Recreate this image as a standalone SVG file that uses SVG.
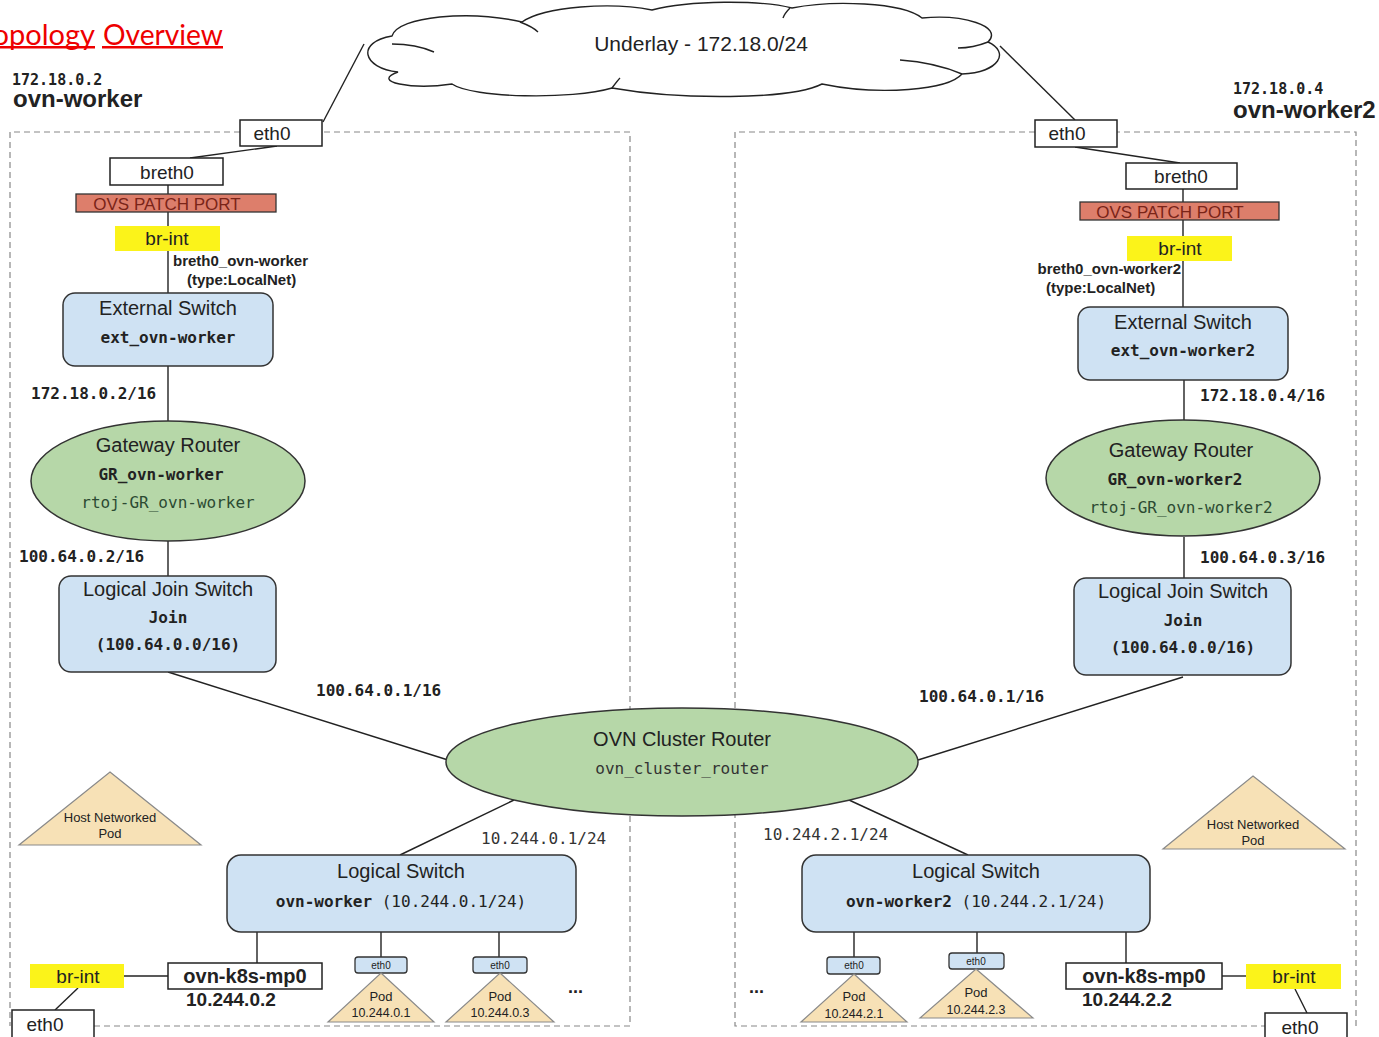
<svg xmlns="http://www.w3.org/2000/svg" width="1379" height="1037" viewBox="0 0 1379 1037">
  <style>
    .sans { font-family: "Liberation Sans", Arial, sans-serif; fill: #222; }
    .mono { font-family: "DejaVu Sans Mono", "Liberation Mono", monospace; fill: #222; font-size: 16px; }
    .b { font-weight: bold; }
    .mid { text-anchor: middle; }
    .box { fill: #fff; stroke: #222; stroke-width: 1.5; }
    .sw { fill: #cfe2f3; stroke: #333; stroke-width: 1.5; }
    .rt { fill: #b6d7a8; stroke: #333; stroke-width: 1.5; }
    .ovs { fill: #dd7e6b; stroke: #333; stroke-width: 1.3; }
    .brint { fill: #fbf31a; }
    .pod { fill: #f7e1b6; stroke: #8a8a8a; stroke-width: 1.2; }
    .port { fill: #cfe2f3; stroke: #333; stroke-width: 1.3; }
    .link { stroke: #222; stroke-width: 1.4; fill: none; }
    .zone { fill: none; stroke: #888; stroke-width: 1.2; stroke-dasharray: 6 4; }
  </style>

  <!-- page heading -->
  <g id="heading">
    <text x="95" y="45" text-anchor="end" font-family="Lato, 'Open Sans', sans-serif" font-size="29" fill="#ee0000">Topology</text>
    <text x="103" y="45" font-family="Lato, 'Open Sans', sans-serif" font-size="29" fill="#ee0000" textLength="120" lengthAdjust="spacingAndGlyphs">Overview</text>
    <rect x="0" y="46" width="95" height="2.5" fill="#ee0000"/>
    <rect x="102" y="46" width="121" height="2.5" fill="#ee0000"/>
  </g>

  <!-- node zones -->
  <g id="zones">
    <path class="zone" d="M240,132 H10 V1026 M94,1026 H630 V132 H322"/>
    <path class="zone" d="M1035,132 H735 V1026 H1265 M1356,1026 V132 H1117"/>
  </g>

  <g id="hosts">
    <text class="mono b" x="12" y="85" style="font-size:15px">172.18.0.2</text>
    <text class="sans b" x="13" y="107" font-size="24">ovn-worker</text>
    <text class="mono b" x="1233" y="94" style="font-size:15px">172.18.0.4</text>
    <text class="sans b" x="1233" y="118" font-size="24">ovn-worker2</text>
  </g>

  <!-- connectors -->
  <g id="connectors">
    <line class="link" x1="364" y1="44" x2="323" y2="122"/>
    <line class="link" x1="1000" y1="46" x2="1075" y2="120"/>
    <line class="link" x1="277" y1="146" x2="190" y2="158"/>
    <line class="link" x1="1075" y1="147" x2="1180" y2="163"/>
    <line class="link" x1="168" y1="185" x2="168" y2="293"/>
    <line class="link" x1="1183" y1="189" x2="1183" y2="307"/>
    <line class="link" x1="168" y1="366" x2="168" y2="421"/>
    <line class="link" x1="1184" y1="380" x2="1184" y2="421"/>
    <line class="link" x1="168" y1="541" x2="168" y2="576"/>
    <line class="link" x1="1184" y1="537" x2="1184" y2="578"/>
    <line class="link" x1="168" y1="672" x2="448" y2="760"/>
    <line class="link" x1="918" y1="760" x2="1183" y2="677"/>
    <line class="link" x1="514" y1="800" x2="400" y2="855"/>
    <line class="link" x1="849" y1="800" x2="968" y2="855"/>
    <line class="link" x1="257" y1="932" x2="257" y2="963"/>
    <line class="link" x1="381" y1="932" x2="381" y2="957"/>
    <line class="link" x1="499" y1="932" x2="499" y2="957"/>
    <line class="link" x1="854" y1="932" x2="854" y2="957"/>
    <line class="link" x1="977" y1="932" x2="977" y2="953"/>
    <line class="link" x1="1126" y1="932" x2="1126" y2="963"/>
    <line class="link" x1="124" y1="976" x2="168" y2="976"/>
    <line class="link" x1="78" y1="988" x2="55" y2="1010"/>
    <line class="link" x1="1222" y1="976" x2="1246" y2="976"/>
    <line class="link" x1="1295" y1="989" x2="1307" y2="1013"/>
  </g>

  <!-- underlay cloud -->
  <g id="underlay">
    <path fill="#fff" stroke="#222" stroke-width="1.4" d="M398,72 C362,68 356,42 392,36 C398,16 470,10 522,22 C545,6 612,2 652,10 C690,0 760,0 792,8 C832,0 902,2 922,18 C962,14 1004,26 988,42 C1010,52 1000,72 962,74 C948,90 880,96 822,84 C790,100 680,100 612,88 C572,100 472,98 452,84 C412,90 370,82 398,72 Z"/>
    <path class="link" d="M392,44 C410,44 425,48 434,52 M520,22 C528,25 534,28 538,32 M790,8 C786,12 784,15 783,18 M988,42 C978,46 968,48 958,48 M962,74 C948,68 928,62 900,60 M612,88 C615,84 618,80 620,78"/>
    <text class="sans mid" x="701" y="51" font-size="21">Underlay - 172.18.0/24</text>
  </g>

  <!-- ovn-worker -->
  <g id="eth0-worker">
    <rect class="box" x="240" y="120" width="82" height="26"/>
    <text class="sans mid" x="272" y="140" font-size="19">eth0</text>
  </g>
  <g id="breth0-worker">
    <rect class="box" x="110" y="158" width="113" height="27"/>
    <text class="sans mid" x="167" y="179" font-size="19">breth0</text>
  </g>
  <g id="patch-worker">
    <rect class="ovs" x="76" y="194" width="200" height="18"/>
    <text class="sans mid" x="167" y="210" font-size="17" style="fill:#7a2418">OVS PATCH PORT</text>
  </g>
  <g id="brint-worker">
    <rect class="brint" x="115" y="226" width="105" height="25"/>
    <text class="sans mid" x="167" y="245" font-size="19">br-int</text>
    <text class="sans b" x="173" y="266" font-size="15">breth0_ovn-worker</text>
    <text class="sans b" x="187" y="285" font-size="15">(type:LocalNet)</text>
  </g>
  <g id="ext-worker">
    <rect class="sw" x="63" y="293" width="210" height="73" rx="12"/>
    <text class="sans mid" x="168" y="315" font-size="20">External Switch</text>
    <text class="mono b mid" x="168" y="343">ext_ovn-worker</text>
    <text class="mono b" x="31" y="399">172.18.0.2/16</text>
  </g>
  <g id="gr-worker">
    <ellipse class="rt" cx="168" cy="481" rx="137" ry="60"/>
    <text class="sans mid" x="168" y="452" font-size="20">Gateway Router</text>
    <text class="mono b mid" x="161" y="480">GR_ovn-worker</text>
    <text class="mono mid" x="168" y="508" style="fill:#2c4a32">rtoj-GR_ovn-worker</text>
    <text class="mono b" x="19" y="562">100.64.0.2/16</text>
  </g>
  <g id="join-worker">
    <rect class="sw" x="59" y="576" width="217" height="96" rx="12"/>
    <text class="sans mid" x="168" y="596" font-size="20">Logical Join Switch</text>
    <text class="mono b mid" x="168" y="623">Join</text>
    <text class="mono b mid" x="168" y="650">(100.64.0.0/16)</text>
    <text class="mono b" x="316" y="696">100.64.0.1/16</text>
  </g>

  <!-- cluster router -->
  <g id="cluster-router">
    <ellipse class="rt" cx="682" cy="762" rx="236" ry="54"/>
    <text class="sans mid" x="682" y="746" font-size="20">OVN Cluster Router</text>
    <text class="mono mid" x="682" y="774" style="fill:#333">ovn_cluster_router</text>
  </g>

  <!-- ovn-worker2 -->
  <g id="eth0-worker2">
    <rect class="box" x="1035" y="120" width="82" height="27"/>
    <text class="sans mid" x="1067" y="140" font-size="19">eth0</text>
  </g>
  <g id="breth0-worker2">
    <rect class="box" x="1126" y="163" width="111" height="26"/>
    <text class="sans mid" x="1181" y="183" font-size="19">breth0</text>
  </g>
  <g id="patch-worker2">
    <rect class="ovs" x="1080" y="202" width="199" height="18"/>
    <text class="sans mid" x="1170" y="218" font-size="17" style="fill:#7a2418">OVS PATCH PORT</text>
  </g>
  <g id="brint-worker2">
    <rect class="brint" x="1127" y="236" width="105" height="25"/>
    <text class="sans mid" x="1180" y="255" font-size="19">br-int</text>
    <text class="sans b" x="1181" y="274" font-size="15" text-anchor="end">breth0_ovn-worker2</text>
    <text class="sans b" x="1046" y="293" font-size="15">(type:LocalNet)</text>
  </g>
  <g id="ext-worker2">
    <rect class="sw" x="1078" y="307" width="210" height="73" rx="12"/>
    <text class="sans mid" x="1183" y="329" font-size="20">External Switch</text>
    <text class="mono b mid" x="1183" y="356">ext_ovn-worker2</text>
    <text class="mono b" x="1200" y="401">172.18.0.4/16</text>
  </g>
  <g id="gr-worker2">
    <ellipse class="rt" cx="1183" cy="478" rx="137" ry="58"/>
    <text class="sans mid" x="1181" y="457" font-size="20">Gateway Router</text>
    <text class="mono b mid" x="1175" y="485">GR_ovn-worker2</text>
    <text class="mono mid" x="1181" y="513" style="fill:#2c4a32">rtoj-GR_ovn-worker2</text>
    <text class="mono b" x="1200" y="563">100.64.0.3/16</text>
  </g>
  <g id="join-worker2">
    <rect class="sw" x="1074" y="578" width="217" height="97" rx="12"/>
    <text class="sans mid" x="1183" y="598" font-size="20">Logical Join Switch</text>
    <text class="mono b mid" x="1183" y="626">Join</text>
    <text class="mono b mid" x="1183" y="653">(100.64.0.0/16)</text>
    <text class="mono b" x="919" y="702">100.64.0.1/16</text>
  </g>

  <!-- ovn-worker pod network -->
  <g id="ls-worker">
    <rect class="sw" x="227" y="855" width="349" height="77" rx="14"/>
    <text class="sans mid" x="401" y="878" font-size="20">Logical Switch</text>
    <text class="mono mid" x="401" y="907"><tspan class="b">ovn-worker</tspan> (10.244.0.1/24)</text>
    <text class="mono" x="481" y="844" style="fill:#333">10.244.0.1/24</text>
  </g>
  <g id="hostpod-worker">
    <polygon class="pod" points="110,772 201,845 19,845"/>
    <text class="sans mid" x="110" y="822" font-size="13">Host Networked</text>
    <text class="sans mid" x="110" y="838" font-size="13">Pod</text>
  </g>
  <g id="mp0-worker">
    <rect class="box" x="168" y="963" width="154" height="26"/>
    <text class="sans b mid" x="245" y="983" font-size="20">ovn-k8s-mp0</text>
    <text class="sans b" x="186" y="1006" font-size="19">10.244.0.2</text>
  </g>
  <g id="brint-mp-worker">
    <rect class="brint" x="30" y="964" width="94" height="24"/>
    <text class="sans mid" x="78" y="983" font-size="19">br-int</text>
  </g>
  <g id="eth0-mp-worker">
    <rect class="box" x="12" y="1010" width="82" height="30"/>
    <text class="sans mid" x="45" y="1031" font-size="19">eth0</text>
  </g>
  <g id="pod-0-1">
    <rect class="port" x="355" y="957" width="52" height="16" rx="3"/>
    <text class="sans mid" x="381" y="969" font-size="10">eth0</text>
    <polygon class="pod" points="381,973 434,1022 328,1022"/>
    <text class="sans mid" x="381" y="1001" font-size="13">Pod</text>
    <text class="sans mid" x="381" y="1017" font-size="12.5">10.244.0.1</text>
  </g>
  <g id="pod-0-3">
    <rect class="port" x="473" y="957" width="54" height="16" rx="3"/>
    <text class="sans mid" x="500" y="969" font-size="10">eth0</text>
    <polygon class="pod" points="500,973 554,1022 446,1022"/>
    <text class="sans mid" x="500" y="1001" font-size="13">Pod</text>
    <text class="sans mid" x="500" y="1017" font-size="12.5">10.244.0.3</text>
  </g>
  <text class="sans b" x="568" y="993" font-size="18">...</text>

  <!-- ovn-worker2 pod network -->
  <g id="ls-worker2">
    <rect class="sw" x="802" y="855" width="348" height="77" rx="14"/>
    <text class="sans mid" x="976" y="878" font-size="20">Logical Switch</text>
    <text class="mono mid" x="976" y="907"><tspan class="b">ovn-worker2</tspan> (10.244.2.1/24)</text>
    <text class="mono" x="763" y="840" style="fill:#333">10.244.2.1/24</text>
  </g>
  <g id="hostpod-worker2">
    <polygon class="pod" points="1253,776 1345,849 1163,849"/>
    <text class="sans mid" x="1253" y="829" font-size="13">Host Networked</text>
    <text class="sans mid" x="1253" y="845" font-size="13">Pod</text>
  </g>
  <g id="pod-2-1">
    <rect class="port" x="827" y="957" width="53" height="17" rx="3"/>
    <text class="sans mid" x="854" y="969" font-size="10">eth0</text>
    <polygon class="pod" points="854,974 907,1022 801,1022"/>
    <text class="sans mid" x="854" y="1001" font-size="13">Pod</text>
    <text class="sans mid" x="854" y="1018" font-size="12.5">10.244.2.1</text>
  </g>
  <g id="pod-2-3">
    <rect class="port" x="949" y="953" width="55" height="16" rx="3"/>
    <text class="sans mid" x="976" y="965" font-size="10">eth0</text>
    <polygon class="pod" points="976,969 1033,1018 920,1018"/>
    <text class="sans mid" x="976" y="997" font-size="13">Pod</text>
    <text class="sans mid" x="976" y="1014" font-size="12.5">10.244.2.3</text>
  </g>
  <text class="sans b" x="749" y="993" font-size="18">...</text>
  <g id="mp0-worker2">
    <rect class="box" x="1066" y="963" width="156" height="26"/>
    <text class="sans b mid" x="1144" y="983" font-size="20">ovn-k8s-mp0</text>
    <text class="sans b" x="1082" y="1006" font-size="19">10.244.2.2</text>
  </g>
  <g id="brint-mp-worker2">
    <rect class="brint" x="1246" y="964" width="95" height="25"/>
    <text class="sans mid" x="1294" y="983" font-size="19">br-int</text>
  </g>
  <g id="eth0-mp-worker2">
    <rect class="box" x="1265" y="1013" width="82" height="30"/>
    <text class="sans mid" x="1300" y="1034" font-size="19">eth0</text>
  </g>
</svg>
